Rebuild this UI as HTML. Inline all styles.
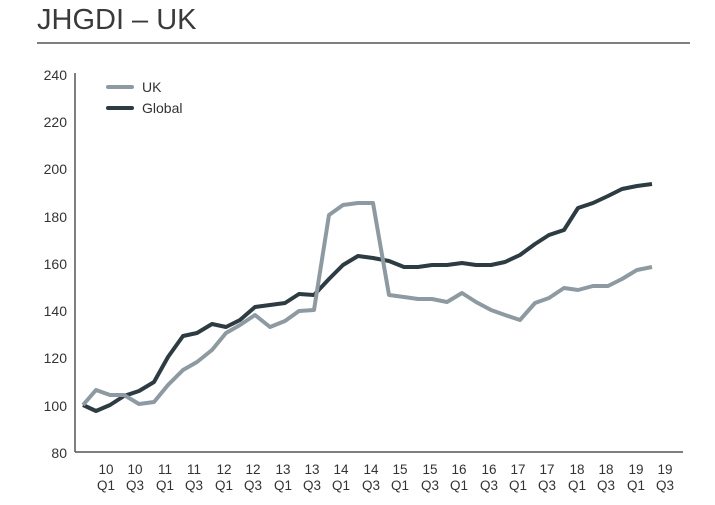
<!DOCTYPE html>
<html><head><meta charset="utf-8"><style>
body{margin:0;background:#fff;width:715px;height:500px;overflow:hidden;font-family:"Liberation Sans",sans-serif}
</style></head><body>
<svg width="715" height="500" xmlns="http://www.w3.org/2000/svg" font-family="Liberation Sans, sans-serif">
<text x="37" y="29" font-size="29" fill="#3a3a3a">JHGDI – UK</text>
<line x1="37" y1="43" x2="690" y2="43" stroke="#555" stroke-width="1.5"/>
<line x1="75" y1="73" x2="75" y2="452" stroke="#555" stroke-width="1.5"/>
<line x1="75" y1="452" x2="683" y2="452" stroke="#555" stroke-width="1.5"/>
<g font-size="14" fill="#333" text-anchor="end">
<text x="67" y="80">240</text><text x="67" y="127">220</text><text x="67" y="174">200</text><text x="67" y="222">180</text><text x="67" y="269">160</text><text x="67" y="316">140</text><text x="67" y="363">120</text><text x="67" y="411">100</text><text x="67" y="458">80</text>
</g>
<line x1="108" y1="87" x2="132" y2="87" stroke="#8e9aa1" stroke-width="4" stroke-linecap="round"/>
<text x="142" y="92" font-size="14" fill="#333">UK</text>
<line x1="108" y1="108" x2="132" y2="108" stroke="#2d3b42" stroke-width="4" stroke-linecap="round"/>
<text x="142" y="113" font-size="14" fill="#333">Global</text>
<polyline fill="none" stroke="#2d3b42" stroke-width="4" stroke-linejoin="round" points="83,405 96,411 110,405 124,396 139,391 154,382 168,357 183,336 197,333 212,324 226,327 240,320 255,307 270,305 285,303 299,294 314,295 329,279 343,265 358,256 373,258 389,261 404,267 418,267 432,265 447,265 462,263 476,265 491,265 505,262 520,255 535,244 549,235 564,230 578,208 593,203 608,196 622,189 637,186 652,184"/>
<polyline fill="none" stroke="#8e9aa1" stroke-width="4" stroke-linejoin="round" points="83,405 96,390 110,395 124,395 139,404 154,402 168,385 183,370 197,362 212,350 226,333 240,325 255,315 270,327 285,321 299,311 314,310 329,215 343,205 358,203 373,203 389,295 404,297 418,299 432,299 447,302 462,293 476,302 491,310 505,315 520,320 535,303 549,298 564,288 578,290 593,286 608,286 622,279 637,270 652,267"/>
<g font-size="13.5" fill="#333" text-anchor="middle">
<text x="106" y="474">10</text><text x="106" y="490">Q1</text>
<text x="135" y="474">10</text><text x="135" y="490">Q3</text>
<text x="165" y="474">11</text><text x="165" y="490">Q1</text>
<text x="194" y="474">11</text><text x="194" y="490">Q3</text>
<text x="224" y="474">12</text><text x="224" y="490">Q1</text>
<text x="253" y="474">12</text><text x="253" y="490">Q3</text>
<text x="283" y="474">13</text><text x="283" y="490">Q1</text>
<text x="312" y="474">13</text><text x="312" y="490">Q3</text>
<text x="341" y="474">14</text><text x="341" y="490">Q1</text>
<text x="371" y="474">14</text><text x="371" y="490">Q3</text>
<text x="400" y="474">15</text><text x="400" y="490">Q1</text>
<text x="430" y="474">15</text><text x="430" y="490">Q3</text>
<text x="459" y="474">16</text><text x="459" y="490">Q1</text>
<text x="489" y="474">16</text><text x="489" y="490">Q3</text>
<text x="518" y="474">17</text><text x="518" y="490">Q1</text>
<text x="547" y="474">17</text><text x="547" y="490">Q3</text>
<text x="577" y="474">18</text><text x="577" y="490">Q1</text>
<text x="606" y="474">18</text><text x="606" y="490">Q3</text>
<text x="636" y="474">19</text><text x="636" y="490">Q1</text>
<text x="665" y="474">19</text><text x="665" y="490">Q3</text>
</g>
</svg>
</body></html>
